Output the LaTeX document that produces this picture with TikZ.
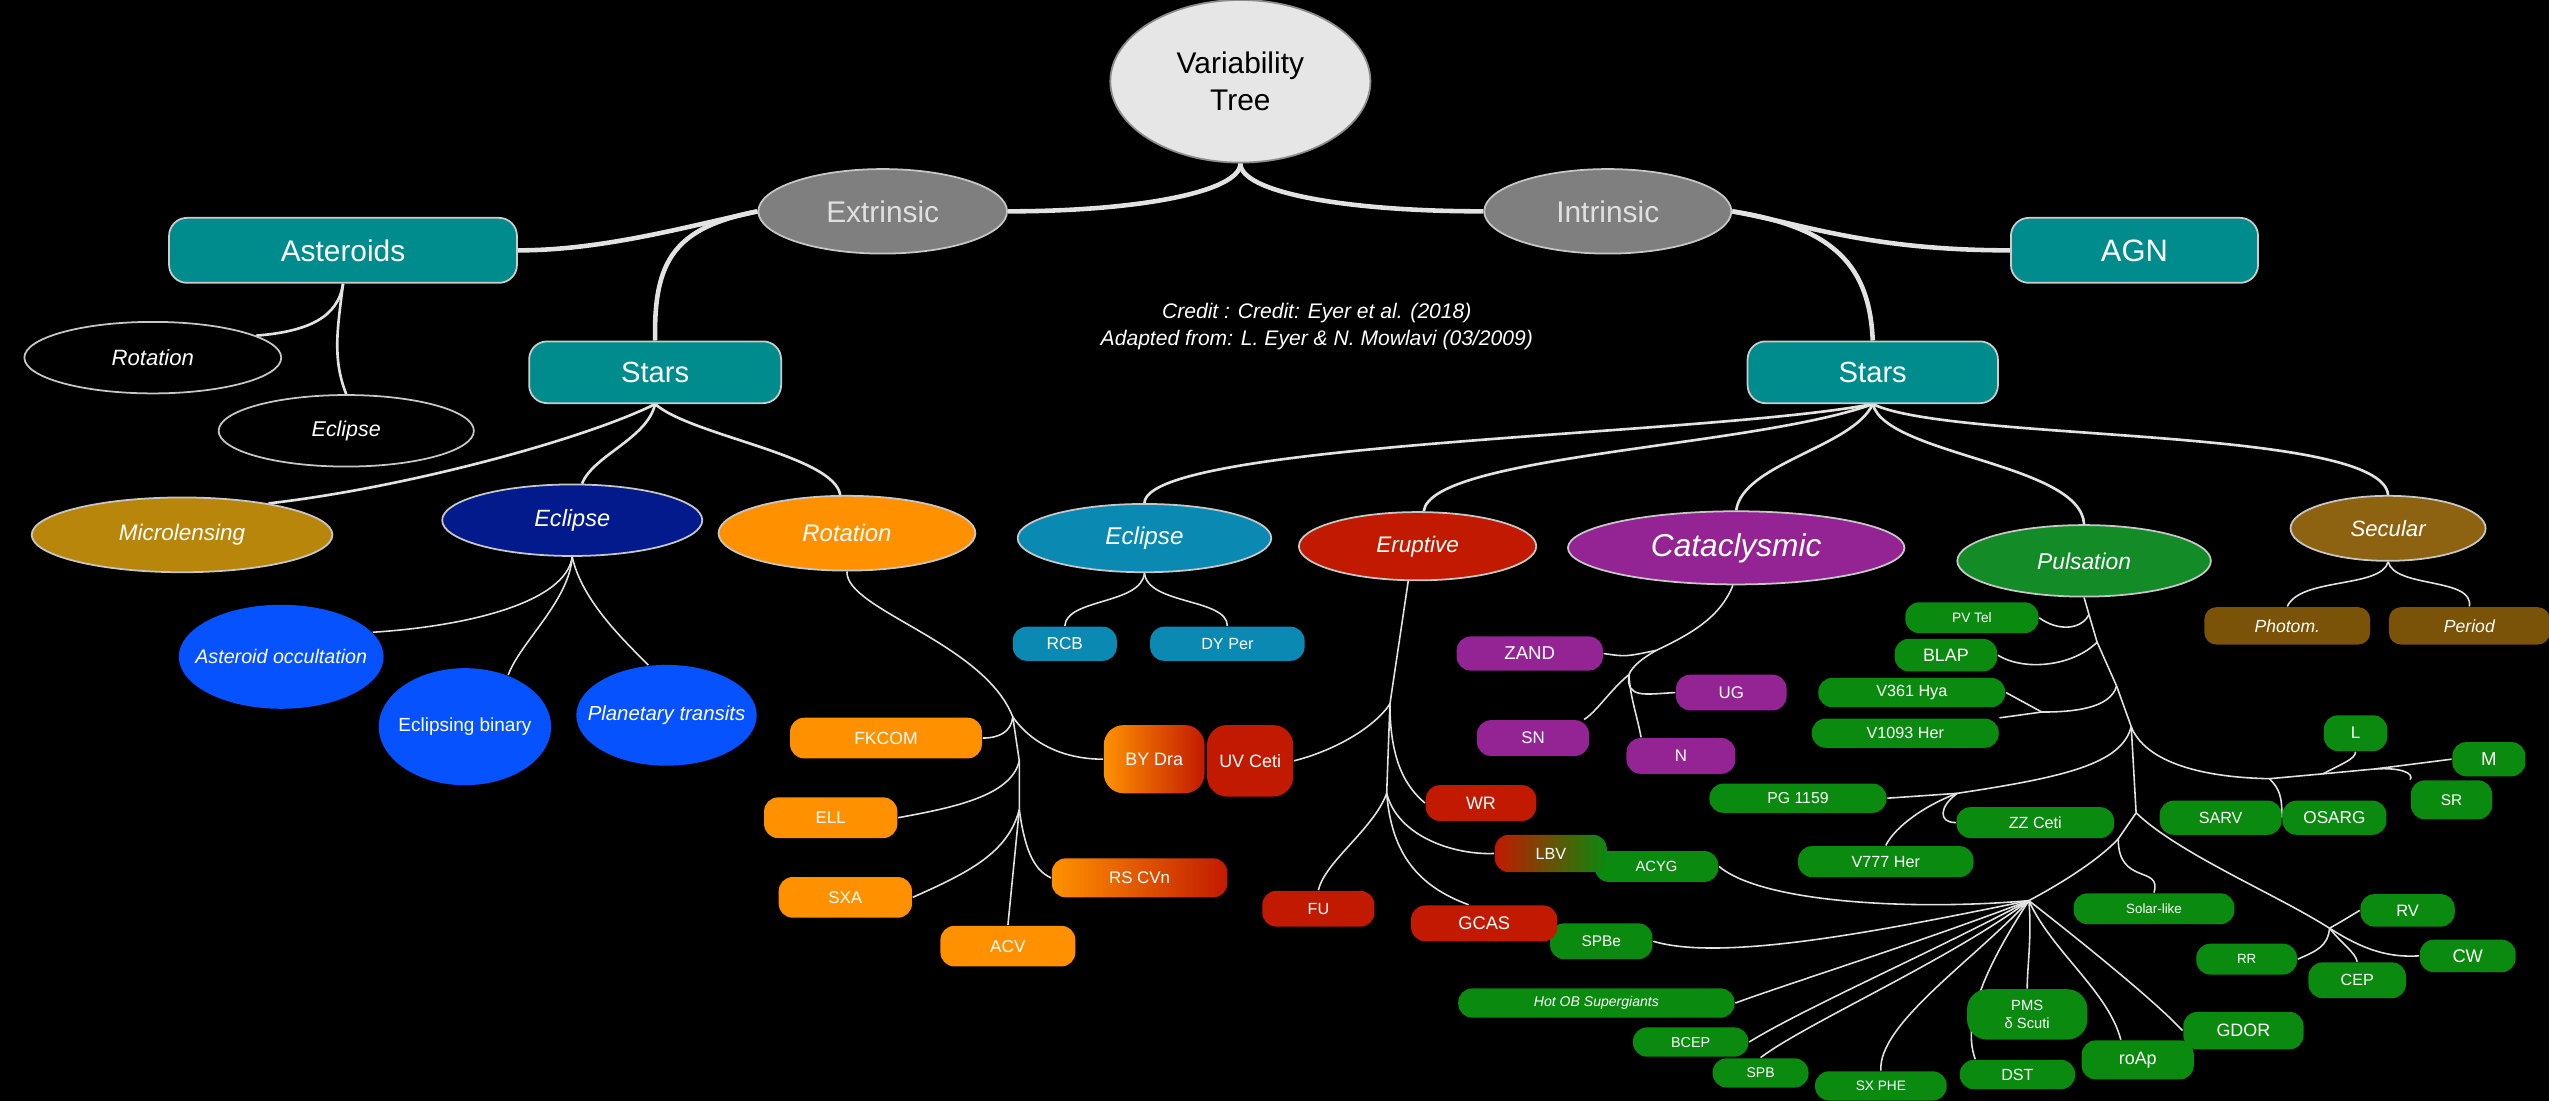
\documentclass[tikz,border=0pt]{standalone}
\usepackage{fontspec}
\setmainfont{Liberation Sans}
\usepackage{tikz}
\usetikzlibrary{shapes.geometric}
\newdimen\pxu \pxu=0.16257mm
\newcommand\fsz[1]{\fontsize{#1}{#1}\selectfont}
\definecolor{lnc}{HTML}{E2E2E2}
\definecolor{paleg}{HTML}{E6E6E6}
\definecolor{greyc}{HTML}{7F7F7F}
\definecolor{tealc}{HTML}{008C8C}
\definecolor{goldc}{HTML}{B8860B}
\definecolor{navyc}{HTML}{021A8C}
\definecolor{orgc}{HTML}{FF9100}
\definecolor{bluec}{HTML}{0652FF}
\definecolor{cyanc}{HTML}{0A8AB2}
\definecolor{redc}{HTML}{C21A00}
\definecolor{purpc}{HTML}{942494}
\definecolor{grnc}{HTML}{0A8A0E}
\definecolor{pulsc}{HTML}{138C28}
\definecolor{brnc}{HTML}{8D6312}
\definecolor{brnd}{HTML}{7A5308}
\tikzset{
  lk/.style={draw=lnc,line width=1.3pt},
  lm/.style={draw=lnc,line width=0.75pt},
  ls/.style={draw=lnc,line width=0.45pt},
  sz/.style 2 args={minimum width=#1*\pxu,minimum height=#2*\pxu},
  fs/.style={font=\fsz{#1pt}},
  fi/.style={font=\itshape\fsz{#1pt}},
  ov/.style={ellipse,draw=white!78!black,line width=0.5pt,inner sep=0pt,text=white},
  tb/.style={rounded corners=1.8mm,draw=white!80!black,line width=0.5pt,fill=tealc,inner sep=0pt,text=white},
  pl/.style={rounded corners=1.4mm,inner sep=0pt,text=white}
}
\pgfdeclarelayer{bg}
\pgfdeclarelayer{links}
\pgfsetlayers{bg,links,main}

\begin{document}
\begin{tikzpicture}[x=0.16257mm,y=-0.16257mm]
\begin{pgfonlayer}{bg}
\fill[black] (0,0) rectangle (1568,677);
\end{pgfonlayer}
\useasboundingbox (0,0) rectangle (1568,677);

\node[ov,sz={160}{100},fill=paleg,draw=white!55!black,text=black,align=center,font=\fontsize{8.5pt}{10.5pt}\selectfont] (VT) at (763,50) {Variability\\Tree};
\node[ov,sz={153}{52},fill=greyc,text=white!88!black,fs=8.5] (Ext) at (543,130) {Extrinsic};
\node[ov,sz={152}{52},fill=greyc,text=white!88!black,fs=8.5] (Int) at (989,130) {Intrinsic};
\node[tb,sz={214}{40},fs=8.5] (Ast) at (211,154) {Asteroids};
\node[tb,sz={152}{40},fs=8.8] (AGN) at (1313,154) {AGN};
\node[tb,sz={155}{38},fs=8.3] (StL) at (403,229) {Stars};
\node[tb,sz={154}{38},fs=8.3] (StR) at (1152,229) {Stars};
\node[text=white,align=center,font=\itshape\fontsize{6pt}{7.7pt}\selectfont] (Cred) at (810,201) {Credit : Credit: Eyer et al. (2018)\\Adapted from: L. Eyer \& N. Mowlavi (03/2009)};

\node[ov,sz={158}{44},fill=black,fi=6.3] (AsRot) at (94,220) {Rotation};
\node[ov,sz={157}{44},fill=black,fi=6.1] (AsEcl) at (213,265) {Eclipse};

\node[ov,sz={185}{46},fill=goldc,fi=6.4] (Micro) at (112,329) {Microlensing};
\node[ov,sz={160}{44},fill=navyc,fi=6.7] (EclL) at (352,320) {Eclipse};
\node[ov,sz={158}{46},fill=orgc,fi=6.8] (RotL) at (521,328) {Rotation};
\node[ov,draw=none,sz={126}{64},fill=bluec,fi=5.6] (AsOcc) at (173,404) {\makebox[0pt]{Asteroid occultation}};
\node[ov,draw=none,sz={106}{72},fill=bluec,fs=5.4] (EBin) at (286,447) {\makebox[0pt]{Eclipsing binary}};
\node[ov,draw=none,sz={111}{62},fill=bluec,fi=5.8] (PTr) at (410,440) {\makebox[0pt]{Planetary transits}};

\node[pl,sz={118}{25},fill=orgc,fs=5] (FKCOM) at (545,454) {FKCOM};
\node[pl,sz={82}{25},fill=orgc,fs=4.8] (ELL) at (511,503) {ELL};
\node[pl,sz={82}{25},fill=orgc,fs=4.8] (SXA) at (520,552) {SXA};
\node[pl,sz={83}{25},fill=orgc,fs=4.9] (ACV) at (620,582) {ACV};
\node[pl,sz={108}{24},left color=orgc,right color=redc,fs=4.8] (RSCVn) at (701,540) {RS CVn};
\node[pl,rounded corners=2mm,sz={62}{42},left color=orgc,right color=redc,fs=5.1] (BYDra) at (710,467) {BY Dra};
\node[pl,rounded corners=2mm,sz={53}{44},fill=redc,fs=5.1] (UVCeti) at (769,468) {UV Ceti};

\node[ov,sz={156}{42},fill=cyanc,fi=6.9] (EclR) at (704,331) {Eclipse};
\node[ov,sz={146}{42},fill=redc,fi=6.4] (Erup) at (872,336) {Eruptive};
\node[ov,sz={207}{45},fill=purpc,fi=9] (Cata) at (1068,337) {Cataclysmic};
\node[ov,sz={156}{44},fill=pulsc,fi=6.5] (Puls) at (1282,345) {Pulsation};
\node[ov,sz={120}{40},fill=brnc,fi=6.3] (Secu) at (1469,325) {Secular};

\node[pl,sz={64}{21},fill=cyanc,fs=4.9] (RCB) at (655,396) {RCB};
\node[pl,sz={95}{21},fill=cyanc,fs=4.6] (DYPer) at (755,396) {DY Per};

\node[pl,sz={68}{22},fill=redc,fs=5.1] (WR) at (911,494) {WR};
\node[pl,sz={76}{19},fill=grnc,fs=4.2] (ACYG) at (1019,533) {ACYG};
\node[pl,sz={69}{23},left color=redc,right color=grnc,fs=4.6] (LBV) at (954,525) {LBV};
\node[pl,sz={69}{22},fill=redc,fs=4.6] (FU) at (811,559) {FU};
\node[pl,sz={63}{22},fill=grnc,fs=4.4] (SPBe) at (985,579) {SPBe};
\node[pl,sz={90}{22},fill=redc,fs=5.2] (GCAS) at (913,568) {GCAS};

\node[pl,sz={90}{21},fill=purpc,fs=5.3] (ZAND) at (941,402) {ZAND};
\node[pl,sz={68}{22},fill=purpc,fs=4.8] (UG) at (1065,426) {UG};
\node[pl,sz={69}{22},fill=purpc,fs=4.8] (SN) at (943,454) {SN};
\node[pl,sz={67}{22},fill=purpc,fs=4.8] (N) at (1034,465) {N};

\node[pl,sz={82}{19},fill=grnc,fs=3.9] (PVTel) at (1213,380) {PV Tel};
\node[pl,sz={63}{20},fill=grnc,fs=5.1] (BLAP) at (1197,403) {BLAP};
\node[pl,sz={115}{18},fill=grnc,fs=4.6] (V361) at (1176,426) {V361 Hya};
\node[pl,sz={115}{18},fill=grnc,fs=4.6] (V1093) at (1172,451) {V1093 Her};
\node[pl,sz={109}{18},fill=grnc,fs=4.5] (PG1159) at (1106,491) {PG 1159};
\node[pl,sz={97}{19},fill=grnc,fs=4.6] (ZZCeti) at (1252,506) {ZZ Ceti};
\node[pl,sz={108}{19},fill=grnc,fs=4.6] (V777) at (1160,530) {V777 Her};
\node[pl,sz={39}{22},fill=grnc,fs=4.8] (L) at (1449,451) {L};
\node[pl,sz={45}{21},fill=grnc,fs=5.3] (M) at (1531,467) {M};
\node[pl,sz={50}{24},fill=grnc,fs=4.4] (SR) at (1508,492) {SR};
\node[pl,sz={75}{21},fill=grnc,fs=4.6] (SARV) at (1366,503) {SARV};
\node[pl,sz={64}{21},fill=grnc,fs=4.9] (OSARG) at (1436,503) {OSARG};
\node[pl,sz={99}{19},fill=grnc,fs=3.8] (Solar) at (1325,559) {Solar-like};
\node[pl,sz={58}{20},fill=grnc,fs=4.7] (RV) at (1481,560) {RV};
\node[pl,sz={62}{19},fill=grnc,fs=3.8] (RR) at (1382,590) {RR};
\node[pl,sz={59}{20},fill=grnc,fs=5.2] (CW) at (1518,588) {CW};
\node[pl,sz={60}{22},fill=grnc,fs=4.6] (CEP) at (1450,603) {CEP};
\node[pl,sz={74}{23},fill=grnc,fs=5.1] (GDOR) at (1380,634) {GDOR};
\node[pl,sz={69}{24},fill=grnc,fs=5.1] (roAp) at (1315,652) {roAp};
\node[pl,rounded corners=2mm,sz={74}{31},fill=grnc,align=center,font=\fontsize{4.2pt}{5pt}\selectfont] (PMS) at (1247,624) {PMS\\δ Scuti};
\node[pl,sz={71}{18},fill=grnc,fs=4.6] (DST) at (1241,661) {DST};
\node[pl,sz={81}{18},fill=grnc,fs=3.9] (SXPHE) at (1157,668) {SX PHE};
\node[pl,sz={59}{18},fill=grnc,fs=4] (SPB) at (1083,660) {SPB};
\node[pl,sz={71}{18},fill=grnc,fs=4.1] (BCEP) at (1040,641) {BCEP};
\node[pl,sz={170}{18},fill=grnc,fi=4] (HotOB) at (982,617) {Hot OB Supergiants};

\node[pl,rounded corners=1.2mm,sz={102}{23},fill=brnd,fi=5] (Photom) at (1407,385) {Photom.};
\node[pl,rounded corners=1.2mm,sz={99}{23},fill=brnd,fi=5] (Period) at (1519,385) {Period};

\begin{pgfonlayer}{links}
\draw[lk] (VT.south) .. controls (763,118) and (700,130) .. (Ext.east);
\draw[lk] (VT.south) .. controls (763,118) and (826,130) .. (Int.west);
\draw[lk] (Ext.west) .. controls (420,140) and (370,154) .. (Ast.east);
\draw[lk] (Ext.west) .. controls (415,140) and (402,160) .. (StL.north);
\draw[lk] (Int.east) .. controls (1110,138) and (1150,154) .. (AGN.west);
\draw[lk] (Int.east) .. controls (1130,140) and (1150,165) .. (StR.north);

\draw[lm] (Ast.south) .. controls (208,196) and (188,204) .. (AsRot.12);
\draw[lm] (Ast.south) .. controls (208,200) and (204,220) .. (AsEcl.north);

\draw[lm] (StL.south) .. controls (360,270) and (250,300) .. (Micro.20);
\draw[lm] (StL.south) .. controls (398,270) and (365,280) .. (EclL.75);
\draw[lm] (StL.south) .. controls (425,268) and (513,280) .. (RotL.100);

\draw[ls] (EclL.south) .. controls (348,370) and (290,385) .. (AsOcc.15);
\draw[ls] (EclL.south) .. controls (350,370) and (320,395) .. (EBin.50);
\draw[ls] (EclL.south) .. controls (358,370) and (385,395) .. (PTr.110);

\coordinate (jR1) at (623,441);
\coordinate (jR2) at (627,468);
\coordinate (jR3) at (627,498);
\draw[ls] (RotL.south) .. controls (520,375) and (605,395) .. (jR1) -- (jR2) -- (jR3);
\draw[ls] (jR1) .. controls (622,450) and (615,454) .. (FKCOM.east);
\draw[ls] (jR1) .. controls (635,458) and (655,467) .. (BYDra.west);
\draw[ls] (jR2) .. controls (622,490) and (585,497) .. (ELL.east);
\draw[ls] (jR3) .. controls (620,525) and (595,537) .. (SXA.east);
\draw[ls] (jR3) -- (ACV.north);
\draw[ls] (jR3) .. controls (630,520) and (635,535) .. (RSCVn.west);

\draw[lm] (StR.south) .. controls (1050,268) and (705,272) .. (EclR.north);
\draw[lm] (StR.south) .. controls (1080,275) and (880,280) .. (Erup.80);
\draw[lm] (StR.south) .. controls (1140,275) and (1072,285) .. (Cata.north);
\draw[lm] (StR.south) .. controls (1160,280) and (1280,285) .. (Puls.north);
\draw[lm] (StR.south) .. controls (1200,272) and (1465,262) .. (Secu.north);

\draw[ls] (EclR.south) .. controls (702,372) and (656,368) .. (RCB.north);
\draw[ls] (EclR.south) .. controls (706,372) and (755,368) .. (DYPer.north);

\coordinate (jE1) at (855,433);
\coordinate (jE2) at (853,488);
\draw[ls] (Erup.255) -- (jE1) -- (jE2);
\draw[ls] (UVCeti.east) .. controls (820,462) and (845,448) .. (jE1);
\draw[ls] (jE1) .. controls (855,470) and (866,485) .. (WR.west);
\draw[ls] (jE2) .. controls (845,510) and (815,530) .. (FU.north);
\draw[ls] (jE2) .. controls (860,515) and (895,526) .. (LBV.west);
\draw[ls] (jE2) .. controls (856,525) and (872,545) .. (GCAS.130);

\coordinate (jC0) at (1019,400);
\coordinate (jC1) at (1002,415);
\draw[ls] (Cata.265) .. controls (1058,380) and (1040,390) .. (jC0) .. controls (1010,405) and (1004,410) .. (jC1);
\draw[ls] (ZAND.east) .. controls (1000,404) .. (jC0);
\draw[ls] (jC1) .. controls (990,425) and (982,438) .. (SN.20);
\draw[ls] (jC1) .. controls (1000,430) and (1012,427) .. (UG.west);
\draw[ls] (jC1) .. controls (1003,430) and (1007,440) .. (N.155);

\coordinate (jP1) at (1285,378);
\coordinate (jP2) at (1290,395);
\coordinate (jP3) at (1302,422);
\coordinate (jP4) at (1311,447);
\coordinate (jP6) at (1314,500);
\coordinate (jP7) at (1303,516);
\coordinate (jF) at (1248,554);
\draw[ls] (Puls.south) -- (jP1) -- (jP2) -- (jP3) -- (jP4) -- (jP6) -- (jP7) .. controls (1290,530) and (1265,545) .. (jF);
\draw[ls] (jP1) .. controls (1280,388) and (1265,388) .. (PVTel.east);
\draw[ls] (jP2) .. controls (1275,410) and (1245,413) .. (BLAP.east);
\coordinate (jV) at (1256,438);
\draw[ls] (jP3) .. controls (1298,436) and (1275,438) .. (jV);
\draw[ls] (jV) -- (V361.east);
\draw[ls] (jV) -- (V1093.north east);

\coordinate (jPG) at (1204,488);
\draw[ls] (jP4) .. controls (1305,470) and (1270,478) .. (jPG);
\draw[ls] (jPG) -- (PG1159.east);
\draw[ls] (jPG) .. controls (1185,495) and (1166,508) .. (V777.north);
\draw[ls] (jPG) .. controls (1193,496) and (1192,506) .. (ZZCeti.west);

\coordinate (jS1) at (1396,479);
\coordinate (jS2) at (1429,476);
\coordinate (jS3) at (1461,473);
\draw[ls] (jP4) .. controls (1318,465) and (1345,478) .. (jS1) -- (jS2) -- (jS3) -- (M.west);
\draw[ls] (jS1) .. controls (1402,485) and (1404,490) .. (OSARG.west);
\draw[ls] (jS2) .. controls (1440,470) and (1449,467) .. (L.south);
\draw[ls] (jS3) .. controls (1478,472) and (1485,476) .. (SR.north west);

\coordinate (jRV) at (1433,571);
\draw[ls] (jP6) .. controls (1340,525) and (1400,550) .. (jRV);
\draw[ls] (jRV) .. controls (1440,567) .. (RV.west);
\draw[ls] (jRV) .. controls (1455,585) and (1470,589) .. (CW.west);
\draw[ls] (jRV) .. controls (1440,580) and (1449,586) .. (CEP.north);
\draw[ls] (jRV) .. controls (1432,582) and (1425,585) .. (RR.east);
\draw[ls] (jP7) .. controls (1303,545) and (1330,532) .. (Solar.north);

\draw[ls] (jF) .. controls (1180,560) and (1085,556) .. (ACYG.east);
\draw[ls] (jF) .. controls (1160,572) and (1060,592) .. (SPBe.east);
\draw[ls] (jF) .. controls (1180,580) and (1100,605) .. (HotOB.east);
\draw[ls] (jF) .. controls (1190,585) and (1110,620) .. (BCEP.east);
\draw[ls] (jF) .. controls (1200,590) and (1110,630) .. (SPB.north);
\draw[ls] (jF) .. controls (1215,590) and (1155,630) .. (SXPHE.north);
\draw[ls] (jF) .. controls (1228,585) and (1205,625) .. (DST.160);
\draw[ls] (jF) .. controls (1250,575) and (1247,595) .. (PMS.north);
\draw[ls] (jF) .. controls (1262,585) and (1297,610) .. (roAp.130);
\draw[ls] (jF) .. controls (1275,575) and (1325,615) .. (GDOR.west);

\draw[ls] (Secu.south) .. controls (1465,362) and (1415,355) .. (Photom.north);
\draw[ls] (Secu.south) .. controls (1473,362) and (1522,355) .. (Period.north);
\end{pgfonlayer}
\end{tikzpicture}
\end{document}
